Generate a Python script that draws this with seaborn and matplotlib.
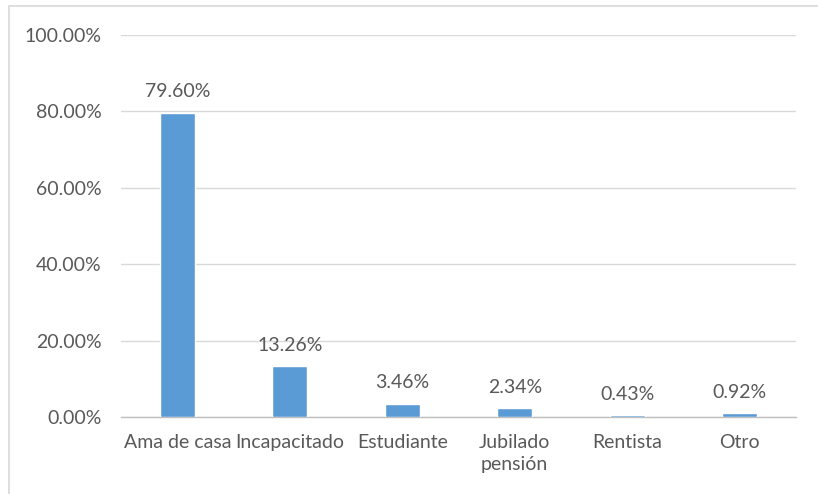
import matplotlib
matplotlib.use("Agg")
import matplotlib.pyplot as plt
import seaborn as sns
import pandas as pd
from matplotlib.patches import Rectangle
from matplotlib.ticker import FuncFormatter

categories = ["Ama de casa", "Incapacitado", "Estudiante", "Jubilado\npensión", "Rentista", "Otro"]
values = [79.60, 13.26, 3.46, 2.34, 0.43, 0.92]
y_ticks = [0, 20, 40, 60, 80, 100]

sns.set_theme(style="white")
plt.rcParams["font.family"] = ["Lato", "DejaVu Sans"]

text_color = "#595959"
bar_color = "#5B9BD5"
fs = 14

df = pd.DataFrame({"cat": categories, "val": values})

fig = plt.figure(figsize=(8.18, 4.94), dpi=100)
ax = fig.add_axes([121 / 818, 1 - 417 / 494, 675 / 818, 382 / 494])

sns.barplot(data=df, x="cat", y="val", color=bar_color, saturation=1,
            width=0.31, ax=ax, zorder=3)

ax.set_ylim(0, 100)
ax.set_xlim(-0.5, len(categories) - 0.5)
ax.set_yticks(y_ticks)
ax.yaxis.set_major_formatter(FuncFormatter(lambda v, p: f"{v:.2f}%"))
ax.grid(axis="y", color="#D9D9D9", linewidth=1, zorder=0)
ax.grid(axis="x", visible=False)
for s in ["left", "right", "top"]:
    ax.spines[s].set_visible(False)
ax.spines["bottom"].set_color("#BFBFBF")
ax.spines["bottom"].set_linewidth(1)
ax.tick_params(axis="both", length=0, labelsize=fs, colors=text_color)
ax.tick_params(axis="x", pad=12)
ax.tick_params(axis="y", pad=14)
for lbl in ax.get_xticklabels():
    lbl.set_linespacing(1.35)
ax.set_xlabel("")
ax.set_ylabel("")

for i, v in enumerate(values):
    ax.annotate(f"{v:.2f}%", (i, v), xytext=(0, 9), textcoords="offset points",
                ha="center", va="bottom", fontsize=fs, color=text_color)

fig.patches.append(Rectangle((9 / 818, -0.1), 1.2, 1 - 6 / 494 + 0.1,
                             transform=fig.transFigure, fill=False,
                             edgecolor="#D9D9D9", linewidth=1.2))

fig.savefig("out.png", dpi=100, facecolor="white")
